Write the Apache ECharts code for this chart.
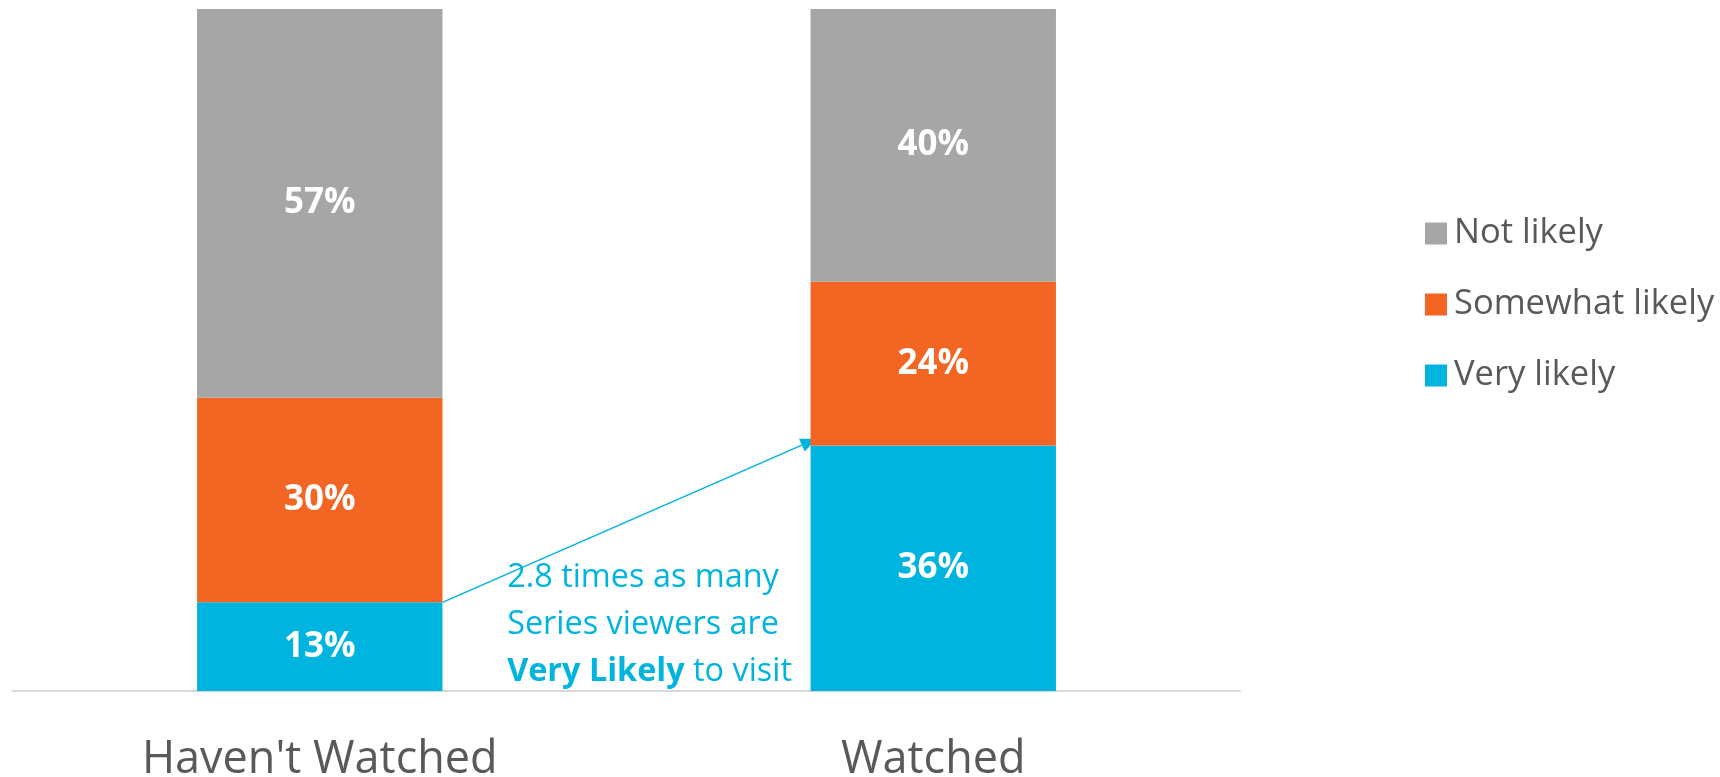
<!DOCTYPE html>
<html><head><meta charset="utf-8">
<script src="https://cdn.jsdelivr.net/npm/echarts@6/dist/echarts.min.js"></script>
<style>html,body{margin:0;padding:0;background:#fff}#c{width:1720px;height:777px}</style>
</head><body><div id="c"></div>
<script>
const categories = ["Haven't Watched", "Watched"];
const veryLikely = [13, 36];
const somewhatLikely = [30, 24];
const notLikely = [57, 40];
const legendOrder = ['Not likely', 'Somewhat likely', 'Very likely'];

const chart = echarts.init(document.getElementById('c'));
const FONT = '"Open Sans", sans-serif';
const lbl = {show: true, position: 'inside', color: '#fff', fontFamily: FONT, fontWeight: 'bold', fontSize: 35, formatter: p => p.value + '%'};
const option = {
  animation: false,
  grid: {left: 13, right: 480, top: 9, bottom: 86, outerBoundsMode: 'none', containLabel: false},
  legend: {
    orient: 'vertical', left: 1420, top: 211, itemWidth: 22, itemHeight: 22, itemGap: 36,
    icon: 'rect', data: legendOrder,
    textStyle: {fontFamily: FONT, fontSize: 34.5, color: '#595959', lineHeight: 30, padding: [0,0,0,2]}
  },
  xAxis: {
    type: 'category', data: categories,
    axisLine: {lineStyle: {color: '#d9d9d9', width: 2}}, axisTick: {show: false},
    axisLabel: {fontFamily: FONT, fontSize: 45, color: '#595959', margin: 47}
  },
  yAxis: {type: 'value', min: 0, max: 100, show: false, splitLine: {show: false}},
  series: [
    {name: 'Very likely', type: 'bar', stack: 's', data: veryLikely, barWidth: '40%', itemStyle: {color: '#00B4E0'}, label: lbl},
    {name: 'Somewhat likely', type: 'bar', stack: 's', data: somewhatLikely, itemStyle: {color: '#F26522'}, label: lbl},
    {name: 'Not likely', type: 'bar', stack: 's', data: notLikely, itemStyle: {color: '#A6A6A6'}, label: lbl}
  ]
};
chart.setOption(option);

// annotation arrow from top of "Very likely" in first bar to the second bar
const p0 = chart.convertToPixel({gridIndex: 0}, [0, veryLikely[0]]);
const p1 = chart.convertToPixel({gridIndex: 0}, [1, veryLikely[1] + 1]);
const barW = (chart.getWidth() - 13 - 480) / categories.length * 0.4;
const x0 = p0[0] + barW / 2, y0 = p0[1];
const x1 = p1[0] - barW / 2 + 6, y1 = p1[1];
const ang = Math.atan2(y1 - y0, x1 - x0);
const hl = 16, hw = 7;
const bx = x1 - hl * Math.cos(ang), by = y1 - hl * Math.sin(ang);
chart.setOption({graphic: [
  {type: 'line', shape: {x1: x0, y1: y0, x2: bx, y2: by}, style: {stroke: '#00B4E0', lineWidth: 1.5}},
  {type: 'polygon', shape: {points: [[x1, y1], [bx - hw * Math.sin(ang), by + hw * Math.cos(ang)], [bx + hw * Math.sin(ang), by - hw * Math.cos(ang)]]}, style: {fill: '#00B4E0'}},
  {type: 'text', right: 1720 - 792, top: 554, style: {
    text: '2.8 times as many\nSeries viewers are\n{b|Very Likely} to visit',
    fill: '#00B4E0', font: '32.4px ' + FONT, lineHeight: 47, align: 'right',
    rich: {b: {fontWeight: 'bold', fontSize: 32.4, fontFamily: FONT, fill: '#00B4E0', lineHeight: 47}}
  }}
]});
</script></body></html>
